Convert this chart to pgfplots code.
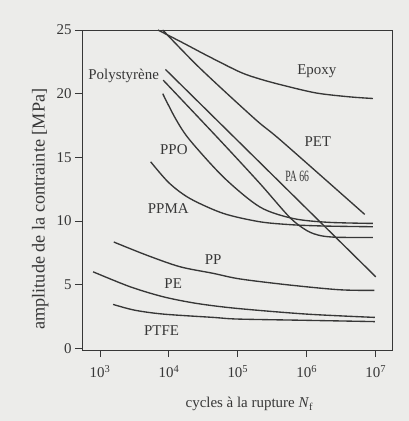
\documentclass[border=0pt]{standalone}
\usepackage{fontspec}
\setmainfont{Liberation Serif}
\usepackage{pgfplots}
\pgfplotsset{compat=1.18}
\definecolor{bg}{RGB}{236,236,234}
\definecolor{ink}{RGB}{55,55,55}
\begin{document}
\begin{tikzpicture}[font=\fontsize{15}{18}\selectfont]
\fill[bg] (-82bp,-71bp) rectangle (327bp,350bp);
\begin{axis}[
  scale only axis, width=310bp, height=320bp,
  xmin=2.739, xmax=7.236, ymin=-0.13, ymax=25,
  axis line style={ink, line width=0.9bp},
  xtick={3,4,5,6,7},
  xticklabels={10\textsuperscript{3},10\textsuperscript{4},10\textsuperscript{5},10\textsuperscript{6},10\textsuperscript{7}},
  ytick={0,5,10,15,20,25},
  tick align=outside, major tick length=7bp,
  xtick pos=bottom, ytick pos=left,
  tick style={ink, line width=0.9bp},
  /pgf/number format/assume math mode=true,
  ticklabel style={text=ink},
  xticklabel style={yshift=-5bp},
  xlabel={cycles à la rupture \textit{N}\textsubscript{f}},
  ylabel={\fontsize{18.3}{20}\selectfont amplitude de la contrainte [MPa]},
  xlabel style={at={(axis description cs:0.54,-0.169)}, anchor=center, text=ink},
  ylabel style={at={(axis description cs:-0.135,0.44)}, anchor=center, text=ink},
  curve/.style={draw=ink, line width=1.35bp, mark=none, solid},
  clip=false,
]
% Epoxy
\addplot[curve, smooth] coordinates {(3.84,25.0) (4.2,24.0) (4.55,23.0) (5.03,21.7) (5.32,21.15) (5.66,20.65) (6.14,20.05) (6.62,19.75) (6.96,19.62)};
% PET
\addplot[curve, smooth] coordinates {(3.91,25) (4.45,22.0) (5.25,18.0) (5.63,16.3) (6.84,10.52)};
% straight steep line
\addplot[curve] coordinates {(3.95,21.9) (7.0,5.62)};
% line B
\addplot[curve, smooth] coordinates {(3.917,21.06) (4.739,16.35) (5.319,12.95) (5.75,10.3) (6.0,9.25) (6.2,8.85) (6.45,8.72) (6.96,8.71)};
% line C
\addplot[curve, smooth] coordinates {(3.91,20.0) (4.1,18.0) (4.304,16.35) (4.8,13.4) (5.32,11.1) (5.8,10.2) (6.3,9.9) (6.96,9.81)};
% PPMA
\addplot[curve, smooth] coordinates {(3.735,14.65) (4.0,13.0) (4.304,11.77) (4.787,10.6) (5.319,9.94) (5.8,9.7) (6.3,9.6) (6.96,9.55)};
% PP
\addplot[curve, smooth] coordinates {(3.2,8.35) (3.676,7.32) (4.159,6.41) (4.642,5.89) (5.03,5.45) (5.754,4.97) (6.478,4.6) (6.98,4.55)};
% PE
\addplot[curve, smooth] coordinates {(2.9,6.01) (3.435,4.84) (3.917,4.05) (4.4,3.53) (4.98,3.14) (5.995,2.69) (6.986,2.43)};
% PTFE
\addplot[curve, smooth] coordinates {(3.19,3.45) (3.5,3.0) (3.917,2.69) (4.642,2.43) (5.0,2.3) (6.0,2.2) (6.986,2.1)};
\node[text=ink] at (axis cs:6.145,21.79) {Epoxy};
\node[text=ink] at (axis cs:6.16,16.22) {PET};
\node[text=ink] at (axis cs:5.86,13.47) {\scalebox{0.65}[1.05]{PA 66}};
\node[text=ink] at (axis cs:3.343,21.37) {Polystyrène};
\node[text=ink] at (axis cs:4.072,15.57) {PPO};
\node[text=ink] at (axis cs:3.99,10.99) {PPMA};
\node[text=ink] at (axis cs:4.642,6.99) {PP};
\node[text=ink] at (axis cs:4.062,5.05) {PE};
\node[text=ink] at (axis cs:3.893,1.36) {PTFE};
\end{axis}
\pgfresetboundingbox
\useasboundingbox (-82bp,-71bp) rectangle (327bp,350bp);
\end{tikzpicture}
\end{document}
